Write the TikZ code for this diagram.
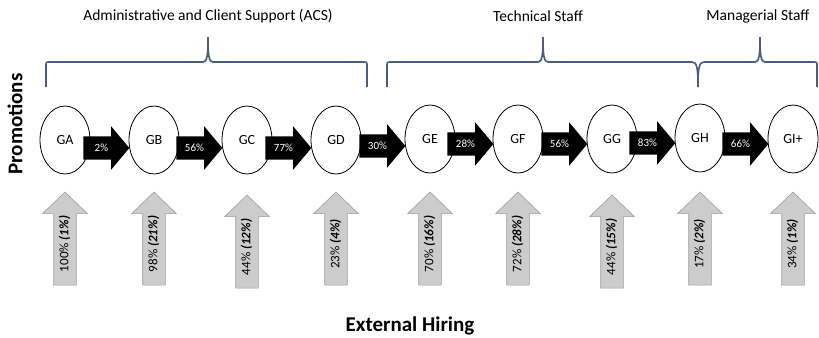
\documentclass[tikz,border=0pt]{standalone}
\usepackage{fontspec}
\setmainfont{Carlito}
\usetikzlibrary{shapes.geometric,shapes.arrows,calc}
\definecolor{bracecol}{RGB}{74,95,127}
\definecolor{hirefill}{RGB}{204,204,204}
\definecolor{hiredraw}{RGB}{158,158,158}
\tikzset{
grade/.style={draw,ellipse,line width=0.8bp,minimum width=50bp,minimum height=68bp,inner sep=0pt,font=\fontsize{14bp}{16bp}\selectfont},
promo/.style={single arrow,fill=black,text=white,anchor=tip,single arrow head extend=10bp,single arrow tip angle=100,minimum height=46bp,inner xsep=2bp,inner ysep=6.5bp,text height=8bp,text depth=2bp,font=\fontsize{11bp}{13bp}\selectfont},
hire/.style={single arrow,rotate=90,fill=hirefill,draw=hiredraw,line width=0.6bp,single arrow head extend=11bp,single arrow tip angle=92,minimum height=93bp,inner xsep=2bp,inner ysep=4.75bp,text height=9.5bp,text depth=3bp,font=\fontsize{13bp}{15bp}\selectfont},
grp/.style={draw=bracecol,line width=1.6bp},
grptext/.style={font=\fontsize{15.5bp}{18bp}\selectfont},
axistext/.style={font=\bfseries\fontsize{21bp}{24bp}\selectfont}}
\begin{document}
\begin{tikzpicture}[x=1bp,y=-1bp]
\useasboundingbox (0,0) rectangle (819,337);
\node[grade](GA)at(65,140){GA};\node[grade](GB)at(154,140){GB};\node[grade](GC)at(247,140){GC};
\node[grade](GD)at(336,140){GD};\node[grade](GE)at(430,139){GE};\node[grade](GF)at(518,139){GF};
\node[grade](GG)at(612,139){GG};\node[grade](GH)at(700,138){GH};\node[grade](GI)at(793,139){GI+};
\node[promo](pAB)at($(GB.west)+(1,8)$){2\%};
\node[promo](pBC)at($(GC.west)+(1,8)$){56\%};
\node[promo](pCD)at($(GD.west)+(1,8)$){77\%};
\node[promo](pDE)at($(GE.west)+(1,7)$){30\%};
\node[promo](pEF)at($(GF.west)+(1,5)$){28\%};
\node[promo](pFG)at($(GG.west)+(1,5)$){56\%};
\node[promo](pGH)at($(GH.west)+(1,5)$){83\%};
\node[promo](pHI)at($(GI.west)+(1,5)$){66\%};
\node[hire](hA)at($(GA)+(0,104)$){100\% \textbf{\textit{(1\%)}}};
\node[hire](hB)at($(GB)+(0,104)$){98\% \textbf{\textit{(21\%)}}};
\node[hire](hC)at($(GC)+(0,107)$){44\% \textbf{\textit{(12\%)}}};
\node[hire](hD)at($(GD)+(0,104)$){23\% \textbf{\textit{(4\%)}}};
\node[hire](hE)at($(GE)+(0,105)$){70\% \textbf{\textit{(16\%)}}};
\node[hire](hF)at($(GF)+(0,105)$){72\% \textbf{\textit{(28\%)}}};
\node[hire](hG)at($(GG)+(0,108)$){44\% \textbf{\textit{(15\%)}}};
\node[hire](hH)at($(GH)+(0,106)$){17\% \textbf{\textit{(2\%)}}};
\node[hire](hI)at($(GI)+(0,105)$){34\% \textbf{\textit{(1\%)}}};
\draw[grp](46,87)--(46,66)..controls(46,62)..(50,62)--(203,62)..controls(207,62)and(208,56)..(208,37)
..controls(208,56)and(209,62)..(213,62)--(363,62)..controls(367,62)..(367,66)--(367,87);
\draw[grp](387,87)--(387,66)..controls(387,62)..(391,62)--(538,62)..controls(542,62)and(543,56)..(543,37)
..controls(543,56)and(544,62)..(548,62)--(692,62)..controls(697,62)and(698,68)..(698,87);
\draw[grp](698,87)..controls(698,68)and(699,62)..(704,62)--(755,62)..controls(759,62)and(760,56)..(760,37)
..controls(760,56)and(761,62)..(765,62)--(813,62)..controls(817,62)..(817,66)--(817,87);
\node[grptext](tACS)at(208,16){Administrative and Client Support (ACS)};
\node[grptext](tTS)at(538,16){Technical Staff};\node[grptext](tMS)at(758,16){Managerial Staff};
\node[axistext,rotate=90](lP)at(15,124){Promotions};
\node[axistext](lE)at(410,326){External Hiring};
\end{tikzpicture}
\end{document}
